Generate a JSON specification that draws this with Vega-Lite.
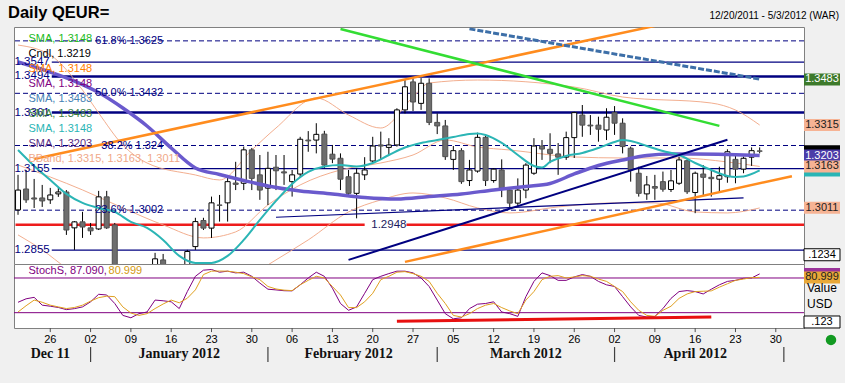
{
"$schema":"https://vega.github.io/schema/vega-lite/v6.json",
"background":"#f0f0f0",
"padding":{"left":8,"top":5,"right":6,"bottom":21},
"bounds":"flush",
"spacing":0,
"title":{"text":"Daily QEUR=","anchor":"start","fontSize":16.5,"fontWeight":"bold","font":"Liberation Sans","color":"black","dx":-6,"offset":-11,"frame":"group"},
"config":{"font":"Liberation Sans","view":{"stroke":"#808080","fill":"white","strokeWidth":1}},
"datasets":{
"cd":[
{"d":"2011-12-20","o":1.3003,"h":1.3132,"l":1.2985,"c":1.3076},
{"d":"2011-12-21","o":1.3080,"h":1.3150,"l":1.3029,"c":1.3040},
{"d":"2011-12-22","o":1.3047,"h":1.3117,"l":1.3010,"c":1.3043},
{"d":"2011-12-23","o":1.3047,"h":1.3095,"l":1.3014,"c":1.3036},
{"d":"2011-12-26","o":1.3040,"h":1.3084,"l":1.3025,"c":1.3058},
{"d":"2011-12-27","o":1.3062,"h":1.3084,"l":1.3051,"c":1.3069},
{"d":"2011-12-28","o":1.3069,"h":1.3076,"l":1.2911,"c":1.2929},
{"d":"2011-12-29","o":1.2937,"h":1.2962,"l":1.2856,"c":1.2959},
{"d":"2011-12-30","o":1.2959,"h":1.2996,"l":1.2900,"c":1.2940},
{"d":"2012-01-02","o":1.2937,"h":1.2955,"l":1.2911,"c":1.2926},
{"d":"2012-01-03","o":1.2933,"h":1.3073,"l":1.2929,"c":1.3051},
{"d":"2012-01-04","o":1.3051,"h":1.3073,"l":1.2933,"c":1.2937},
{"d":"2012-01-05","o":1.2948,"h":1.2955,"l":1.2770,"c":1.2785},
{"d":"2012-01-06","o":1.2785,"h":1.2795,"l":1.2700,"c":1.2720},
{"d":"2012-01-09","o":1.2720,"h":1.2790,"l":1.2690,"c":1.2760},
{"d":"2012-01-10","o":1.2760,"h":1.2795,"l":1.2730,"c":1.2780},
{"d":"2012-01-11","o":1.2780,"h":1.2795,"l":1.2700,"c":1.2720},
{"d":"2012-01-12","o":1.2720,"h":1.2845,"l":1.2700,"c":1.2823},
{"d":"2012-01-13","o":1.2819,"h":1.2841,"l":1.2624,"c":1.2680},
{"d":"2012-01-16","o":1.2680,"h":1.2710,"l":1.2625,"c":1.2665},
{"d":"2012-01-17","o":1.2665,"h":1.2795,"l":1.2650,"c":1.2740},
{"d":"2012-01-18","o":1.2740,"h":1.2856,"l":1.2730,"c":1.2850},
{"d":"2012-01-19","o":1.2868,"h":1.2974,"l":1.2856,"c":1.2960},
{"d":"2012-01-20","o":1.2964,"h":1.2974,"l":1.2929,"c":1.2936},
{"d":"2012-01-23","o":1.2936,"h":1.3052,"l":1.2900,"c":1.3029},
{"d":"2012-01-24","o":1.3021,"h":1.3058,"l":1.2960,"c":1.3020},
{"d":"2012-01-25","o":1.3029,"h":1.3125,"l":1.2960,"c":1.3107},
{"d":"2012-01-26","o":1.3102,"h":1.3180,"l":1.3076,"c":1.3097},
{"d":"2012-01-27","o":1.3101,"h":1.3236,"l":1.3076,"c":1.3224},
{"d":"2012-01-30","o":1.3224,"h":1.3231,"l":1.3076,"c":1.3119},
{"d":"2012-01-31","o":1.3132,"h":1.3205,"l":1.3040,"c":1.3076},
{"d":"2012-02-01","o":1.3083,"h":1.3217,"l":1.3021,"c":1.3156},
{"d":"2012-02-02","o":1.3160,"h":1.3205,"l":1.3076,"c":1.3147},
{"d":"2012-02-03","o":1.3143,"h":1.3205,"l":1.3095,"c":1.3139},
{"d":"2012-02-06","o":1.3107,"h":1.3150,"l":1.3052,"c":1.3132},
{"d":"2012-02-07","o":1.3135,"h":1.3272,"l":1.3121,"c":1.3263},
{"d":"2012-02-08","o":1.3260,"h":1.3293,"l":1.3217,"c":1.3257},
{"d":"2012-02-09","o":1.3260,"h":1.3322,"l":1.3211,"c":1.3281},
{"d":"2012-02-10","o":1.3282,"h":1.3294,"l":1.3156,"c":1.3168},
{"d":"2012-02-13","o":1.3208,"h":1.3242,"l":1.3175,"c":1.3190},
{"d":"2012-02-14","o":1.3193,"h":1.3211,"l":1.3076,"c":1.3116},
{"d":"2012-02-15","o":1.3125,"h":1.3150,"l":1.3058,"c":1.3064},
{"d":"2012-02-16","o":1.3064,"h":1.3156,"l":1.2972,"c":1.3138},
{"d":"2012-02-17","o":1.3132,"h":1.3197,"l":1.3113,"c":1.3150},
{"d":"2012-02-20","o":1.3183,"h":1.3272,"l":1.3175,"c":1.3238},
{"d":"2012-02-21","o":1.3242,"h":1.3291,"l":1.3187,"c":1.3238},
{"d":"2012-02-22","o":1.3233,"h":1.3267,"l":1.3205,"c":1.3242},
{"d":"2012-02-23","o":1.3242,"h":1.3377,"l":1.3236,"c":1.3371},
{"d":"2012-02-24","o":1.3371,"h":1.3481,"l":1.3358,"c":1.3456},
{"d":"2012-02-27","o":1.3474,"h":1.3492,"l":1.3367,"c":1.3400},
{"d":"2012-02-28","o":1.3395,"h":1.3488,"l":1.3371,"c":1.3469},
{"d":"2012-02-29","o":1.3469,"h":1.3487,"l":1.3315,"c":1.3325},
{"d":"2012-03-01","o":1.3325,"h":1.3358,"l":1.3282,"c":1.3312},
{"d":"2012-03-02","o":1.3312,"h":1.3334,"l":1.3187,"c":1.3199},
{"d":"2012-03-05","o":1.3189,"h":1.3238,"l":1.3150,"c":1.3221},
{"d":"2012-03-06","o":1.3221,"h":1.3230,"l":1.3099,"c":1.3107},
{"d":"2012-03-07","o":1.3111,"h":1.3187,"l":1.3091,"c":1.3150},
{"d":"2012-03-08","o":1.3146,"h":1.3287,"l":1.3140,"c":1.3270},
{"d":"2012-03-09","o":1.3270,"h":1.3279,"l":1.3091,"c":1.3111},
{"d":"2012-03-12","o":1.3111,"h":1.3156,"l":1.3103,"c":1.3153},
{"d":"2012-03-13","o":1.3150,"h":1.3189,"l":1.3050,"c":1.3083},
{"d":"2012-03-14","o":1.3076,"h":1.3086,"l":1.3009,"c":1.3028},
{"d":"2012-03-15","o":1.3028,"h":1.3119,"l":1.3015,"c":1.3076},
{"d":"2012-03-16","o":1.3076,"h":1.3175,"l":1.3046,"c":1.3168},
{"d":"2012-03-19","o":1.3138,"h":1.3267,"l":1.3132,"c":1.3238},
{"d":"2012-03-20","o":1.3238,"h":1.3260,"l":1.3187,"c":1.3227},
{"d":"2012-03-21","o":1.3226,"h":1.3285,"l":1.3175,"c":1.3211},
{"d":"2012-03-22","o":1.3209,"h":1.3249,"l":1.3132,"c":1.3197},
{"d":"2012-03-23","o":1.3197,"h":1.3291,"l":1.3187,"c":1.3269},
{"d":"2012-03-26","o":1.3269,"h":1.3364,"l":1.3194,"c":1.3361},
{"d":"2012-03-27","o":1.3352,"h":1.3389,"l":1.3272,"c":1.3315},
{"d":"2012-03-28","o":1.3315,"h":1.3352,"l":1.3279,"c":1.3312},
{"d":"2012-03-29","o":1.3315,"h":1.3346,"l":1.3254,"c":1.3300},
{"d":"2012-03-30","o":1.3297,"h":1.3377,"l":1.3260,"c":1.3344},
{"d":"2012-04-02","o":1.3361,"h":1.3385,"l":1.3279,"c":1.3322},
{"d":"2012-04-03","o":1.3322,"h":1.3340,"l":1.3211,"c":1.3236},
{"d":"2012-04-04","o":1.3230,"h":1.3236,"l":1.3107,"c":1.3150},
{"d":"2012-04-05","o":1.3138,"h":1.3162,"l":1.3052,"c":1.3064},
{"d":"2012-04-06","o":1.3062,"h":1.3128,"l":1.3040,"c":1.3095},
{"d":"2012-04-09","o":1.3089,"h":1.3132,"l":1.3040,"c":1.3083},
{"d":"2012-04-10","o":1.3107,"h":1.3144,"l":1.3070,"c":1.3079},
{"d":"2012-04-11","o":1.3078,"h":1.3150,"l":1.3069,"c":1.3110},
{"d":"2012-04-12","o":1.3101,"h":1.3199,"l":1.3095,"c":1.3187},
{"d":"2012-04-13","o":1.3184,"h":1.3189,"l":1.3062,"c":1.3070},
{"d":"2012-04-16","o":1.3067,"h":1.3144,"l":1.2991,"c":1.3138},
{"d":"2012-04-17","o":1.3135,"h":1.3168,"l":1.3054,"c":1.3123},
{"d":"2012-04-18","o":1.3123,"h":1.3153,"l":1.3052,"c":1.3118},
{"d":"2012-04-19","o":1.3116,"h":1.3162,"l":1.3070,"c":1.3129},
{"d":"2012-04-20","o":1.3125,"h":1.3226,"l":1.3103,"c":1.3217},
{"d":"2012-04-23","o":1.3189,"h":1.3205,"l":1.3101,"c":1.3153},
{"d":"2012-04-24","o":1.3153,"h":1.3199,"l":1.3138,"c":1.3193},
{"d":"2012-04-25","o":1.3197,"h":1.3233,"l":1.3165,"c":1.3221},
{"d":"2012-04-26","o":1.3220,"h":1.3233,"l":1.3211,"c":1.3219}
],
"bb":[
{"b":"u","d":"2011-12-20","p":1.36096},{"b":"u","d":"2011-12-26","p":1.35728},{"b":"u","d":"2011-12-30","p":1.34441},{"b":"u","d":"2012-01-03","p":1.33596},{"b":"u","d":"2012-01-06","p":1.32419},{"b":"u","d":"2012-01-11","p":1.31757},{"b":"u","d":"2012-01-19","p":1.31316},{"b":"u","d":"2012-01-24","p":1.31132},{"b":"u","d":"2012-01-30","p":1.32235},{"b":"u","d":"2012-02-02","p":1.33044},{"b":"u","d":"2012-02-09","p":1.34147},{"b":"u","d":"2012-02-15","p":1.33522},{"b":"u","d":"2012-02-21","p":1.33044},{"b":"u","d":"2012-02-27","p":1.34184},{"b":"u","d":"2012-02-29","p":1.34699},{"b":"u","d":"2012-03-08","p":1.34809},{"b":"u","d":"2012-03-26","p":1.34551},{"b":"u","d":"2012-04-03","p":1.34184},{"b":"u","d":"2012-04-18","p":1.33963},{"b":"u","d":"2012-04-23","p":1.33706},{"b":"u","d":"2012-04-26","p":1.33154},
{"b":"m","d":"2011-12-20","p":1.31684},{"b":"m","d":"2011-12-30","p":1.30765},{"b":"m","d":"2012-01-06","p":1.30103},{"b":"m","d":"2012-01-13","p":1.29478},{"b":"m","d":"2012-01-20","p":1.29000},{"b":"m","d":"2012-01-26","p":1.29221},{"b":"m","d":"2012-02-01","p":1.30213},{"b":"m","d":"2012-02-07","p":1.30949},{"b":"m","d":"2012-02-14","p":1.31500},{"b":"m","d":"2012-02-21","p":1.31757},{"b":"m","d":"2012-02-27","p":1.32051},{"b":"m","d":"2012-03-02","p":1.32603},{"b":"m","d":"2012-03-08","p":1.32346},{"b":"m","d":"2012-03-14","p":1.32235},{"b":"m","d":"2012-03-26","p":1.31978},{"b":"m","d":"2012-04-03","p":1.31941},{"b":"m","d":"2012-04-12","p":1.31941},{"b":"m","d":"2012-04-20","p":1.31794},{"b":"m","d":"2012-04-26","p":1.31629},
{"b":"l","d":"2011-12-20","p":1.29110},{"b":"l","d":"2011-12-23","p":1.28559},{"b":"l","d":"2011-12-28","p":1.27897},{"b":"l","d":"2012-01-05","p":1.27088},{"b":"l","d":"2012-01-17","p":1.26720},{"b":"l","d":"2012-01-25","p":1.27090},{"b":"l","d":"2012-01-31","p":1.27824},{"b":"l","d":"2012-02-02","p":1.28191},{"b":"l","d":"2012-02-08","p":1.28926},{"b":"l","d":"2012-02-15","p":1.29956},{"b":"l","d":"2012-02-21","p":1.30397},{"b":"l","d":"2012-02-27","p":1.30654},{"b":"l","d":"2012-03-02","p":1.30471},{"b":"l","d":"2012-03-08","p":1.30103},{"b":"l","d":"2012-03-14","p":1.29919},{"b":"l","d":"2012-03-22","p":1.30140},{"b":"l","d":"2012-04-02","p":1.30287},{"b":"l","d":"2012-04-09","p":1.30287},{"b":"l","d":"2012-04-16","p":1.29956},{"b":"l","d":"2012-04-20","p":1.29919},{"b":"l","d":"2012-04-26","p":1.30103}
],
"smaP":[
{"d":"2011-12-20","p":1.35471},{"d":"2011-12-26","p":1.35103},{"d":"2011-12-29","p":1.34772},{"d":"2012-01-03","p":1.34349},{"d":"2012-01-06","p":1.33779},{"d":"2012-01-11","p":1.33118},{"d":"2012-01-16","p":1.32309},{"d":"2012-01-19","p":1.31574},{"d":"2012-01-24","p":1.31335},{"d":"2012-01-27","p":1.31114},{"d":"2012-02-01","p":1.30912},{"d":"2012-02-07","p":1.30728},{"d":"2012-02-13","p":1.30618},{"d":"2012-02-17","p":1.30489},{"d":"2012-02-23","p":1.30434},{"d":"2012-02-29","p":1.30526},{"d":"2012-03-06","p":1.30618},{"d":"2012-03-12","p":1.30765},{"d":"2012-03-16","p":1.30894},{"d":"2012-03-21","p":1.31004},{"d":"2012-03-26","p":1.31353},{"d":"2012-03-29","p":1.31665},{"d":"2012-04-03","p":1.31868},{"d":"2012-04-06","p":1.32033},{"d":"2012-04-11","p":1.32088},{"d":"2012-04-16","p":1.32088},{"d":"2012-04-20","p":1.32070},{"d":"2012-04-26","p":1.32030}
],
"smaT":[
{"d":"2011-12-20","p":1.32235},{"d":"2011-12-22","p":1.31647},{"d":"2011-12-26","p":1.31132},{"d":"2011-12-28","p":1.30618},{"d":"2011-12-30","p":1.30287},{"d":"2012-01-03","p":1.30103},{"d":"2012-01-05","p":1.29956},{"d":"2012-01-09","p":1.29588},{"d":"2012-01-11","p":1.29368},{"d":"2012-01-13","p":1.28926},{"d":"2012-01-17","p":1.28338},{"d":"2012-01-19","p":1.28081},{"d":"2012-01-23","p":1.28081},{"d":"2012-01-25","p":1.28338},{"d":"2012-01-27","p":1.28926},{"d":"2012-01-31","p":1.29662},{"d":"2012-02-02","p":1.30360},{"d":"2012-02-06","p":1.30985},{"d":"2012-02-08","p":1.31426},{"d":"2012-02-10","p":1.31629},{"d":"2012-02-14","p":1.31684},{"d":"2012-02-16","p":1.31629},{"d":"2012-02-20","p":1.31757},{"d":"2012-02-22","p":1.32051},{"d":"2012-02-24","p":1.32327},{"d":"2012-02-28","p":1.32493},{"d":"2012-03-01","p":1.32603},{"d":"2012-03-05","p":1.32713},{"d":"2012-03-07","p":1.32824},{"d":"2012-03-08","p":1.32842},{"d":"2012-03-09","p":1.32787},{"d":"2012-03-13","p":1.32493},{"d":"2012-03-15","p":1.32051},{"d":"2012-03-19","p":1.31647},{"d":"2012-03-20","p":1.31592},{"d":"2012-03-21","p":1.31794},{"d":"2012-03-23","p":1.32015},{"d":"2012-03-27","p":1.32125},{"d":"2012-03-29","p":1.32309},{"d":"2012-04-02","p":1.32529},{"d":"2012-04-03","p":1.32603},{"d":"2012-04-04","p":1.32566},{"d":"2012-04-06","p":1.32382},{"d":"2012-04-10","p":1.32198},{"d":"2012-04-12","p":1.32051},{"d":"2012-04-16","p":1.31757},{"d":"2012-04-18","p":1.31500},{"d":"2012-04-20","p":1.31279},{"d":"2012-04-23","p":1.31243},{"d":"2012-04-24","p":1.31261},{"d":"2012-04-26","p":1.31482}
],
"trends":[
{"id":"oT","d":"2011-12-22","p":1.31905},{"id":"oT","d":"2012-04-10","p":1.36864},
{"id":"oB","d":"2012-02-24","p":1.28118},{"id":"oB","d":"2012-05-02","p":1.31272},
{"id":"g","d":"2012-02-14","p":1.36687},{"id":"g","d":"2012-04-19","p":1.33121},
{"id":"n","d":"2012-02-15","p":1.28191},{"id":"n","d":"2012-04-20","p":1.32614},
{"id":"nt","d":"2012-02-02","p":1.29761},{"id":"nt","d":"2012-04-24","p":1.30470},
{"id":"s","d":"2012-03-07","p":1.36691},{"id":"s","d":"2012-04-26","p":1.34846}
],
"fib":[{"p":1.3625,"t":"61.8%  1.3625"},{"p":1.3432,"t":"50.0%  1.3432"},{"p":1.324,"t":"38.2%  1.324"},{"p":1.3002,"t":"23.6%  1.3002"}],
"lvThin":[{"p":1.3547},{"p":1.3155},{"p":1.2855}],
"lvThick":[{"p":1.3494},{"p":1.3361}],
"lvAll":[{"p":1.3547},{"p":1.3494},{"p":1.3361},{"p":1.3155},{"p":1.2855}],
"red":[{"p":1.2948}],
"boxes":[{"id":"cndl","v":1.3219},{"id":"sma","v":1.3203},{"id":"teal","v":1.3148},{"id":"bbm","v":1.3163},{"id":"green","v":1.3483},{"id":"bbu","v":1.3315},{"id":"bbl","v":1.3011}],
"legend":[{"id":"l1","r":1,"t":"SMA, 1.3148"},{"id":"l2","r":2,"t":"Cndl, 1.3219"},{"id":"l3","r":3,"t":"SMA, 1.3148"},{"id":"l4","r":4,"t":"SMA, 1.3148"},{"id":"l5","r":5,"t":"SMA, 1.3483"},{"id":"l6","r":6,"t":"SMA, 1.3483"},{"id":"l7","r":7,"t":"SMA, 1.3148"},{"id":"l8","r":8,"t":"SMA, 1.3203"},{"id":"l9","r":9,"t":"BBand, 1.3315, 1.3163, 1.3011"}],
"stoch":[
{"d":"2011-12-20","k":38,"dd":21.2},{"d":"2011-12-21","k":44,"dd":32},{"d":"2011-12-22","k":46.5,"dd":41.8},{"d":"2011-12-23","k":33,"dd":38},{"d":"2011-12-26","k":31.2,"dd":33},{"d":"2011-12-27","k":29,"dd":30},{"d":"2011-12-28","k":25.3,"dd":27.1},{"d":"2011-12-29","k":27,"dd":29},{"d":"2011-12-30","k":30,"dd":33},
{"d":"2012-01-02","k":38.8,"dd":40},{"d":"2012-01-03","k":51.8,"dd":46},{"d":"2012-01-04","k":50.6,"dd":48.5},{"d":"2012-01-05","k":35.9,"dd":47.7},{"d":"2012-01-06","k":15.3,"dd":30},{"d":"2012-01-09","k":11.2,"dd":19.4},{"d":"2012-01-10","k":18.3,"dd":15.3},{"d":"2012-01-11","k":21.2,"dd":18.3},{"d":"2012-01-12","k":41.8,"dd":27.1},{"d":"2012-01-13","k":40.6,"dd":35},{"d":"2012-01-16","k":38.8,"dd":41.8},{"d":"2012-01-17","k":27.1,"dd":37.1},{"d":"2012-01-18","k":56.5,"dd":45},{"d":"2012-01-19","k":82.9,"dd":59.4},{"d":"2012-01-20","k":93.5,"dd":85.9},{"d":"2012-01-23","k":94.7,"dd":91.8},{"d":"2012-01-24","k":90,"dd":92},{"d":"2012-01-25","k":91.8,"dd":91.8},{"d":"2012-01-26","k":88.8,"dd":90},{"d":"2012-01-27","k":90,"dd":87.6},{"d":"2012-01-30","k":82.9,"dd":82},{"d":"2012-01-31","k":71.2,"dd":77.1},
{"d":"2012-02-01","k":60.6,"dd":65.3},{"d":"2012-02-02","k":59.4,"dd":61},{"d":"2012-02-03","k":58,"dd":59},{"d":"2012-02-06","k":57.7,"dd":58.2},{"d":"2012-02-07","k":68.2,"dd":68.2},{"d":"2012-02-08","k":80,"dd":76},{"d":"2012-02-09","k":90,"dd":82.9},{"d":"2012-02-10","k":82.9,"dd":80},{"d":"2012-02-13","k":62.4,"dd":65.3},{"d":"2012-02-14","k":35.9,"dd":50.6},{"d":"2012-02-15","k":24.1,"dd":28.8},{"d":"2012-02-16","k":30,"dd":28.8},{"d":"2012-02-17","k":53.5,"dd":38.8},{"d":"2012-02-20","k":77.1,"dd":53.5},{"d":"2012-02-21","k":82.9,"dd":77.1},{"d":"2012-02-22","k":87.6,"dd":82.9},{"d":"2012-02-23","k":91.8,"dd":90},{"d":"2012-02-24","k":91.8,"dd":91},{"d":"2012-02-27","k":88.8,"dd":87.6},{"d":"2012-02-28","k":80,"dd":82.9},{"d":"2012-02-29","k":65.3,"dd":74.1},
{"d":"2012-03-01","k":41.8,"dd":53.5},{"d":"2012-03-02","k":18.3,"dd":35.9},{"d":"2012-03-05","k":9.4,"dd":15.3},{"d":"2012-03-06","k":11.2,"dd":12.4},{"d":"2012-03-07","k":27,"dd":18.3},{"d":"2012-03-08","k":34.7,"dd":27.1},{"d":"2012-03-09","k":35.9,"dd":33},{"d":"2012-03-12","k":38.8,"dd":35.9},{"d":"2012-03-13","k":21.2,"dd":28.8},{"d":"2012-03-14","k":18.3,"dd":23},{"d":"2012-03-15","k":13.6,"dd":18.3},{"d":"2012-03-16","k":47.7,"dd":41.8},{"d":"2012-03-19","k":74.1,"dd":56.5},{"d":"2012-03-20","k":88.8,"dd":77.1},{"d":"2012-03-21","k":84.1,"dd":82.9},{"d":"2012-03-22","k":75.9,"dd":84.1},{"d":"2012-03-23","k":75.9,"dd":80},{"d":"2012-03-26","k":81.8,"dd":81.8},{"d":"2012-03-27","k":85.9,"dd":84.1},{"d":"2012-03-28","k":82.9,"dd":82.9},{"d":"2012-03-29","k":74.1,"dd":78.2},{"d":"2012-03-30","k":68.2,"dd":74.1},
{"d":"2012-04-02","k":65.3,"dd":65.3},{"d":"2012-04-03","k":47.7,"dd":56.5},{"d":"2012-04-04","k":30,"dd":38.8},{"d":"2012-04-05","k":15.3,"dd":24.1},{"d":"2012-04-06","k":12.4,"dd":15.3},{"d":"2012-04-09","k":13.6,"dd":13.6},{"d":"2012-04-10","k":27.1,"dd":24.1},{"d":"2012-04-11","k":44.7,"dd":31.2},{"d":"2012-04-12","k":56.5,"dd":44.7},{"d":"2012-04-13","k":58.2,"dd":52.4},{"d":"2012-04-16","k":56.5,"dd":56.5},{"d":"2012-04-17","k":52.4,"dd":57.1},{"d":"2012-04-18","k":60.6,"dd":57.7},{"d":"2012-04-19","k":68.2,"dd":64.1},{"d":"2012-04-20","k":74.1,"dd":70},{"d":"2012-04-23","k":75.9,"dd":75.9},{"d":"2012-04-24","k":79.4,"dd":78.2},{"d":"2012-04-25","k":80,"dd":80.6},{"d":"2012-04-26","k":87.1,"dd":81.0}
],
"stLv":[{"v":80},{"v":20}],
"stRed":[{"d":"2012-02-23","v":5.3},{"d":"2012-04-18","v":12.4}],
"days":[{"d":"2011-12-26","lab":"26"},{"d":"2012-01-02","lab":"02"},{"d":"2012-01-09","lab":"09"},{"d":"2012-01-16","lab":"16"},{"d":"2012-01-23","lab":"23"},{"d":"2012-01-30","lab":"30"},{"d":"2012-02-06","lab":"06"},{"d":"2012-02-13","lab":"13"},{"d":"2012-02-20","lab":"20"},{"d":"2012-02-27","lab":"27"},{"d":"2012-03-05","lab":"05"},{"d":"2012-03-12","lab":"12"},{"d":"2012-03-19","lab":"19"},{"d":"2012-03-26","lab":"26"},{"d":"2012-04-02","lab":"02"},{"d":"2012-04-09","lab":"09"},{"d":"2012-04-16","lab":"16"},{"d":"2012-04-23","lab":"23"},{"d":"2012-04-30","lab":"30"}],
"monthSep":[{"d":"2012-01-02"},{"d":"2012-02-01"},{"d":"2012-03-01"},{"d":"2012-04-02"},{"d":"2012-05-01"}],
"monthLab":[{"d":"2011-12-26","m":"Dec 11"},{"d":"2012-01-17","m":"January 2012"},{"d":"2012-02-15","m":"February 2012"},{"d":"2012-03-16","m":"March 2012"},{"d":"2012-04-16","m":"April 2012"}]
},
"vconcat":[
{
"width":790,"height":237,
"title":{"text":"12/20/2011 - 5/3/2012 (WAR)","anchor":"end","fontSize":10,"fontWeight":"normal","font":"Liberation Sans","color":"black","dx":35,"offset":6,"frame":"group"},
"layer":[
{"layer":[
{"data":{"name":"fib"},"mark":{"type":"rule","strokeDash":[5,3],"color":"#000080","strokeWidth":1},
 "encoding":{"y":{"field":"p","type":"quantitative","scale":{"domain":[1.2804,1.3676],"zero":false,"nice":false},
  "axis":{"orient":"right","values":[1.29,1.31,1.34],"format":".2f","labelFontSize":11,"labelColor":"black","tickColor":"black","tickSize":3,"labelPadding":1,"domain":false,"grid":false,"title":["Price","USD"],"titleAngle":0,"titleAlign":"left","titleBaseline":"top","titleX":4,"titleY":19,"titleFontSize":12,"titleFontWeight":"normal","titleColor":"black","titleLineHeight":15}}}},
{"data":{"name":"lvThin"},"mark":{"type":"rule","color":"#000080","strokeWidth":1.2},
 "encoding":{"x":{"datum":"2011-12-26","type":"ordinal","bandPosition":0.8,"axis":null},"x2":{"value":"width"},"y":{"field":"p","type":"quantitative","axis":null}}},
{"data":{"name":"lvThick"},"mark":{"type":"rule","color":"#000080","strokeWidth":2.5},
 "encoding":{"x":{"datum":"2011-12-26","type":"ordinal","bandPosition":0.8,"axis":null},"x2":{"value":"width"},"y":{"field":"p","type":"quantitative","axis":null}}},
{"data":{"name":"red"},"mark":{"type":"rule","color":"#ee1c1c","strokeWidth":2.5},
 "encoding":{"x":{"datum":"2011-12-20","type":"ordinal","bandPosition":0,"axis":null},"x2":{"datum":"2012-02-17"},"y":{"field":"p","type":"quantitative","axis":null}}},
{"data":{"name":"red"},"mark":{"type":"rule","color":"#ee1c1c","strokeWidth":2.5},
 "encoding":{"x":{"datum":"2012-02-24","type":"ordinal","bandPosition":0.8,"axis":null},"x2":{"value":"width"},"y":{"field":"p","type":"quantitative","axis":null}}},
{"data":{"name":"bb"},"mark":{"type":"line","color":"#f0a582","strokeWidth":0.9,"clip":true,"interpolate":"monotone"},
 "encoding":{"x":{"field":"d","type":"ordinal","bandPosition":0.5,"scale":{"type":"band","paddingInner":0.38,"paddingOuter":0.19,"domain":["2011-12-20","2011-12-21","2011-12-22","2011-12-23","2011-12-26","2011-12-27","2011-12-28","2011-12-29","2011-12-30","2012-01-02","2012-01-03","2012-01-04","2012-01-05","2012-01-06","2012-01-09","2012-01-10","2012-01-11","2012-01-12","2012-01-13","2012-01-16","2012-01-17","2012-01-18","2012-01-19","2012-01-20","2012-01-23","2012-01-24","2012-01-25","2012-01-26","2012-01-27","2012-01-30","2012-01-31","2012-02-01","2012-02-02","2012-02-03","2012-02-06","2012-02-07","2012-02-08","2012-02-09","2012-02-10","2012-02-13","2012-02-14","2012-02-15","2012-02-16","2012-02-17","2012-02-20","2012-02-21","2012-02-22","2012-02-23","2012-02-24","2012-02-27","2012-02-28","2012-02-29","2012-03-01","2012-03-02","2012-03-05","2012-03-06","2012-03-07","2012-03-08","2012-03-09","2012-03-12","2012-03-13","2012-03-14","2012-03-15","2012-03-16","2012-03-19","2012-03-20","2012-03-21","2012-03-22","2012-03-23","2012-03-26","2012-03-27","2012-03-28","2012-03-29","2012-03-30","2012-04-02","2012-04-03","2012-04-04","2012-04-05","2012-04-06","2012-04-09","2012-04-10","2012-04-11","2012-04-12","2012-04-13","2012-04-16","2012-04-17","2012-04-18","2012-04-19","2012-04-20","2012-04-23","2012-04-24","2012-04-25","2012-04-26","2012-04-27","2012-04-30","2012-05-01","2012-05-02","2012-05-03"]},"axis":null},
  "y":{"field":"p","type":"quantitative","axis":null},"detail":{"field":"b"}}},
{"data":{"name":"cd"},"mark":{"type":"rule","color":"black","strokeWidth":1,"clip":true},
 "encoding":{"x":{"field":"d","type":"ordinal","bandPosition":0.5,"axis":null},"y":{"field":"l","type":"quantitative","axis":null},"y2":{"field":"h"}}},
{"data":{"name":"cd"},"mark":{"type":"bar","strokeWidth":1,"clip":true},
 "encoding":{"x":{"field":"d","type":"ordinal","axis":null},"y":{"field":"o","type":"quantitative","axis":null},"y2":{"field":"c"},
  "fill":{"condition":{"test":"datum.c >= datum.o","value":"white"},"value":"#6e6e6e"},
  "stroke":{"condition":{"test":"datum.c >= datum.o","value":"black"},"value":"#505050"}}},
{"data":{"name":"trends"},"transform":[{"filter":"datum.id == 'nt'"}],"mark":{"type":"line","color":"#000080","strokeWidth":1.2,"clip":true},
 "encoding":{"x":{"field":"d","type":"ordinal","bandPosition":0.5,"axis":null},"y":{"field":"p","type":"quantitative","axis":null}}},
{"data":{"name":"smaP"},"mark":{"type":"line","color":"#6a5acd","strokeWidth":3.5,"clip":true,"interpolate":"monotone"},
 "encoding":{"x":{"field":"d","type":"ordinal","bandPosition":0.5,"axis":null},"y":{"field":"p","type":"quantitative","axis":null}}},
{"data":{"name":"smaT"},"mark":{"type":"line","color":"#2bb5b5","strokeWidth":2,"clip":true,"interpolate":"monotone"},
 "encoding":{"x":{"field":"d","type":"ordinal","bandPosition":0.5,"axis":null},"y":{"field":"p","type":"quantitative","axis":null}}},
{"data":{"name":"trends"},"transform":[{"filter":"datum.id == 'oT' || datum.id == 'oB'"}],"mark":{"type":"line","color":"#ff8c1e","strokeWidth":2.5,"clip":true},
 "encoding":{"x":{"field":"d","type":"ordinal","bandPosition":0.5,"axis":null},"y":{"field":"p","type":"quantitative","axis":null},"detail":{"field":"id"}}},
{"data":{"name":"trends"},"transform":[{"filter":"datum.id == 'g'"}],"mark":{"type":"line","color":"#33dd33","strokeWidth":2.5,"clip":true},
 "encoding":{"x":{"field":"d","type":"ordinal","bandPosition":0.5,"axis":null},"y":{"field":"p","type":"quantitative","axis":null}}},
{"data":{"name":"trends"},"transform":[{"filter":"datum.id == 'n'"}],"mark":{"type":"line","color":"#000080","strokeWidth":2,"clip":true},
 "encoding":{"x":{"field":"d","type":"ordinal","bandPosition":0.5,"axis":null},"y":{"field":"p","type":"quantitative","axis":null}}},
{"data":{"name":"trends"},"transform":[{"filter":"datum.id == 's'"}],"mark":{"type":"line","color":"#3d6fa8","strokeWidth":3,"strokeDash":[6,2],"clip":true},
 "encoding":{"x":{"field":"d","type":"ordinal","bandPosition":0.5,"axis":null},"y":{"field":"p","type":"quantitative","axis":null}}},
{"data":{"name":"lvAll"},"mark":{"type":"text","align":"left","baseline":"middle","fontSize":11.5,"color":"#000080","dx":-1},
 "encoding":{"x":{"datum":"2011-12-20","type":"ordinal","bandPosition":0,"axis":null},"y":{"field":"p","type":"quantitative","axis":null},"text":{"field":"p","format":".4f"}}},
{"data":{"name":"fib"},"mark":{"type":"text","align":"right","baseline":"middle","fontSize":11,"color":"#000080"},
 "encoding":{"x":{"datum":"2012-01-13","type":"ordinal","bandPosition":0.5,"axis":null},"y":{"field":"p","type":"quantitative","axis":null},"text":{"field":"t"}}},
{"data":{"name":"red"},"mark":{"type":"text","align":"center","baseline":"middle","fontSize":11.5,"color":"#1a1a60"},
 "encoding":{"x":{"datum":"2012-02-22","type":"ordinal","axis":null},"y":{"field":"p","type":"quantitative","axis":null},"text":{"field":"p","format":".4f"}}},
{"data":{"name":"boxes"},"mark":{"type":"point","shape":"M-1.5,-0.5H1.5V0.5H-1.5Z","size":576,"filled":true,"opacity":1,"xOffset":18},
 "encoding":{"x":{"value":"width"},"y":{"field":"v","type":"quantitative","axis":null},
  "color":{"field":"id","type":"nominal","legend":null,"scale":{"domain":["cndl","sma","teal","bbm","green","bbu","bbl"],"range":["#000000","#4b3ca8","#2ab5b5","#f6b394","#3d7a2b","#f6b394","#f6b394"]}}}},
{"data":{"name":"boxes"},"transform":[{"filter":"datum.id != 'teal' && datum.id != 'cndl'"}],"mark":{"type":"text","fontSize":11,"align":"center","baseline":"middle","xOffset":18},
 "encoding":{"x":{"value":"width"},"y":{"field":"v","type":"quantitative","axis":null},"text":{"field":"v","format":".4f"},
  "fill":{"field":"id","type":"nominal","legend":null,"scale":{"domain":["sma","bbm","green","bbu","bbl"],"range":["#ffffff","#222222","#ffffff","#222222","#222222"]}}}},
{"data":{"values":[{"v":1.2838}]},"mark":{"type":"point","shape":"M-1.5,-0.5H1.5V0.5H-1.5Z","size":576,"filled":false,"fill":"white","stroke":"black","strokeWidth":1,"opacity":1,"xOffset":18},
 "encoding":{"x":{"value":"width"},"y":{"field":"v","type":"quantitative","axis":null}}},
{"data":{"values":[{"v":1.2838,"t":".1234"}]},"mark":{"type":"text","fontSize":11,"align":"center","baseline":"middle","xOffset":18,"color":"black"},
 "encoding":{"x":{"value":"width"},"y":{"field":"v","type":"quantitative","axis":null},"text":{"field":"t"}}}
]},
{"data":{"name":"legend"},"mark":{"type":"text","align":"left","baseline":"middle","fontSize":11,"dx":13},
 "encoding":{"x":{"datum":"2011-12-20","type":"ordinal","bandPosition":0,"axis":null},
  "y":{"field":"r","type":"quantitative","axis":null,"scale":{"domain":[0.2,16],"reverse":true,"zero":false,"nice":false}},
  "text":{"field":"t"},
  "fill":{"field":"id","type":"nominal","legend":null,"scale":{"domain":["l1","l2","l3","l4","l5","l6","l7","l8","l9"],"range":["#22bb22","#000000","#ff8000","#800080","#4682b4","#3a8040","#2ab5b5","#5a2d82","#f0a888"]}}}}
],
"resolve":{"scale":{"y":"independent","fill":"independent"}}
},
{
"width":790,"height":64,
"layer":[
{"layer":[
{"data":{"name":"stoch"},"mark":{"type":"line","color":"#800080","strokeWidth":1,"clip":true},
 "encoding":{"x":{"field":"d","type":"ordinal","bandPosition":0.5,"scale":{"type":"band","paddingInner":0.38,"paddingOuter":0.19,"domain":["2011-12-20","2011-12-21","2011-12-22","2011-12-23","2011-12-26","2011-12-27","2011-12-28","2011-12-29","2011-12-30","2012-01-02","2012-01-03","2012-01-04","2012-01-05","2012-01-06","2012-01-09","2012-01-10","2012-01-11","2012-01-12","2012-01-13","2012-01-16","2012-01-17","2012-01-18","2012-01-19","2012-01-20","2012-01-23","2012-01-24","2012-01-25","2012-01-26","2012-01-27","2012-01-30","2012-01-31","2012-02-01","2012-02-02","2012-02-03","2012-02-06","2012-02-07","2012-02-08","2012-02-09","2012-02-10","2012-02-13","2012-02-14","2012-02-15","2012-02-16","2012-02-17","2012-02-20","2012-02-21","2012-02-22","2012-02-23","2012-02-24","2012-02-27","2012-02-28","2012-02-29","2012-03-01","2012-03-02","2012-03-05","2012-03-06","2012-03-07","2012-03-08","2012-03-09","2012-03-12","2012-03-13","2012-03-14","2012-03-15","2012-03-16","2012-03-19","2012-03-20","2012-03-21","2012-03-22","2012-03-23","2012-03-26","2012-03-27","2012-03-28","2012-03-29","2012-03-30","2012-04-02","2012-04-03","2012-04-04","2012-04-05","2012-04-06","2012-04-09","2012-04-10","2012-04-11","2012-04-12","2012-04-13","2012-04-16","2012-04-17","2012-04-18","2012-04-19","2012-04-20","2012-04-23","2012-04-24","2012-04-25","2012-04-26","2012-04-27","2012-04-30","2012-05-01","2012-05-02","2012-05-03"]},"axis":null},
  "y":{"field":"k","type":"quantitative","scale":{"domain":[-6.5,104.2],"zero":false,"nice":false},"axis":null}}},
{"data":{"name":"stLv"},"mark":{"type":"rule","color":"#800080","strokeWidth":1},
 "encoding":{"y":{"field":"v","type":"quantitative","axis":null}}},
{"data":{"name":"stoch"},"mark":{"type":"line","color":"#e0a020","strokeWidth":1,"clip":true},
 "encoding":{"x":{"field":"d","type":"ordinal","bandPosition":0.5,"axis":null},"y":{"field":"dd","type":"quantitative","axis":null}}},
{"data":{"name":"stRed"},"mark":{"type":"line","color":"#e81010","strokeWidth":3},
 "encoding":{"x":{"field":"d","type":"ordinal","bandPosition":0.5,"axis":null},"y":{"field":"v","type":"quantitative","axis":null}}}
]},
{"layer":[
{"data":{"values":[{"v":87.09}]},"mark":{"type":"point","shape":"M-1.5,-0.5H1.5V0.5H-1.5Z","size":576,"filled":true,"opacity":1,"xOffset":18,"color":"#993399"},
 "encoding":{"x":{"value":"width"},"y":{"field":"v","type":"quantitative","axis":null,"scale":{"domain":[-6.5,104.2],"zero":false,"nice":false}}}},
{"data":{"values":[{"v":80.999}]},"mark":{"type":"point","shape":"M-1.5,-0.5H1.5V0.5H-1.5Z","size":576,"filled":true,"opacity":1,"xOffset":18,"color":"#e8a838"},
 "encoding":{"x":{"value":"width"},"y":{"field":"v","type":"quantitative","axis":null}}},
{"data":{"values":[{"v":80.999}]},"mark":{"type":"text","fontSize":11,"align":"center","baseline":"middle","xOffset":18,"color":"#222222"},
 "encoding":{"x":{"value":"width"},"y":{"field":"v","type":"quantitative","axis":null},"text":{"field":"v","format":".3f"}}},
{"data":{"values":[{"t":"Value\nUSD"}]},"mark":{"type":"text","fontSize":12,"align":"left","baseline":"top","lineBreak":"\n","lineHeight":16,"xOffset":3,"color":"black"},
 "encoding":{"x":{"value":"width"},"y":{"datum":72,"type":"quantitative","axis":null},"text":{"field":"t"}}},
{"data":{"values":[{"v":3.9}]},"mark":{"type":"point","shape":"M-1.5,-0.5H1.5V0.5H-1.5Z","size":576,"filled":false,"fill":"white","stroke":"black","strokeWidth":1,"opacity":1,"xOffset":18},
 "encoding":{"x":{"value":"width"},"y":{"field":"v","type":"quantitative","axis":null}}},
{"data":{"values":[{"v":3.9,"t":".123"}]},"mark":{"type":"text","fontSize":11,"align":"center","baseline":"middle","xOffset":18,"color":"black"},
 "encoding":{"x":{"value":"width"},"y":{"field":"v","type":"quantitative","axis":null},"text":{"field":"t"}}},
{"data":{"values":[{"t":"StochS, 87.090,","v":92}]},"mark":{"type":"text","align":"left","baseline":"middle","fontSize":11,"dx":13,"color":"#800080"},
 "encoding":{"x":{"datum":"2011-12-20","type":"ordinal","bandPosition":0,"axis":null},"y":{"field":"v","type":"quantitative","axis":null},"text":{"field":"t"}}},
{"data":{"values":[{"t":"80.999","v":92}]},"mark":{"type":"text","align":"left","baseline":"middle","fontSize":11,"dx":93,"color":"#d49a10"},
 "encoding":{"x":{"datum":"2011-12-20","type":"ordinal","bandPosition":0,"axis":null},"y":{"field":"v","type":"quantitative","axis":null},"text":{"field":"t"}}}
]}
],
"resolve":{"scale":{"y":"independent"}}
},
{
"width":790,"height":34,
"view":{"stroke":null,"fill":null},
"layer":[
{"data":{"name":"monthSep"},"mark":{"type":"rule","color":"#404040","strokeWidth":1.2},
 "encoding":{"x":{"field":"d","type":"ordinal","bandPosition":0.5,"scale":{"type":"band","paddingInner":0.38,"paddingOuter":0.19,"domain":["2011-12-20","2011-12-21","2011-12-22","2011-12-23","2011-12-26","2011-12-27","2011-12-28","2011-12-29","2011-12-30","2012-01-02","2012-01-03","2012-01-04","2012-01-05","2012-01-06","2012-01-09","2012-01-10","2012-01-11","2012-01-12","2012-01-13","2012-01-16","2012-01-17","2012-01-18","2012-01-19","2012-01-20","2012-01-23","2012-01-24","2012-01-25","2012-01-26","2012-01-27","2012-01-30","2012-01-31","2012-02-01","2012-02-02","2012-02-03","2012-02-06","2012-02-07","2012-02-08","2012-02-09","2012-02-10","2012-02-13","2012-02-14","2012-02-15","2012-02-16","2012-02-17","2012-02-20","2012-02-21","2012-02-22","2012-02-23","2012-02-24","2012-02-27","2012-02-28","2012-02-29","2012-03-01","2012-03-02","2012-03-05","2012-03-06","2012-03-07","2012-03-08","2012-03-09","2012-03-12","2012-03-13","2012-03-14","2012-03-15","2012-03-16","2012-03-19","2012-03-20","2012-03-21","2012-03-22","2012-03-23","2012-03-26","2012-03-27","2012-03-28","2012-03-29","2012-03-30","2012-04-02","2012-04-03","2012-04-04","2012-04-05","2012-04-06","2012-04-09","2012-04-10","2012-04-11","2012-04-12","2012-04-13","2012-04-16","2012-04-17","2012-04-18","2012-04-19","2012-04-20","2012-04-23","2012-04-24","2012-04-25","2012-04-26","2012-04-27","2012-04-30","2012-05-01","2012-05-02","2012-05-03"]},"axis":null},
  "y":{"datum":0,"type":"quantitative","scale":{"domain":[0,1],"zero":false,"nice":false},"axis":null},"y2":{"datum":0.44}}},
{"data":{"name":"days"},"mark":{"type":"rule","color":"#505050","strokeWidth":1},
 "encoding":{"x":{"field":"d","type":"ordinal","bandPosition":0.5,"axis":null},"y":{"datum":1,"type":"quantitative","axis":null},"y2":{"datum":0.88}}},
{"data":{"name":"days"},"mark":{"type":"text","fontSize":11,"align":"center","baseline":"middle","color":"black"},
 "encoding":{"x":{"field":"d","type":"ordinal","bandPosition":0.5,"axis":null},"y":{"datum":0.66,"type":"quantitative","axis":null},"text":{"field":"lab"}}},
{"data":{"name":"monthLab"},"mark":{"type":"text","font":"Liberation Sans Narrow","fontWeight":"bold","fontSize":14,"align":"center","baseline":"middle","color":"#111111"},
 "encoding":{"x":{"field":"d","type":"ordinal","bandPosition":0.5,"axis":null},"y":{"datum":0.235,"type":"quantitative","axis":null},"text":{"field":"m"}}},
{"data":{"values":[{"t":"ok"}]},"mark":{"type":"point","filled":true,"opacity":1,"size":110,"color":"#129a22","xOffset":27},
 "encoding":{"x":{"value":"width"},"y":{"datum":0.65,"type":"quantitative","axis":null}}}
]
}
]
}
